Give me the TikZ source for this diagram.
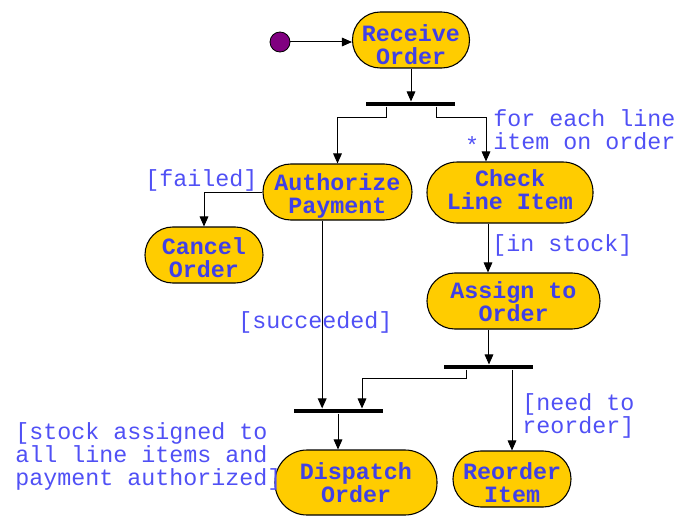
\documentclass[tikz,border=0pt]{standalone}
\usepackage{fontspec}
\setmonofont{Liberation Mono}
\usetikzlibrary{arrows.meta}
\definecolor{gold}{RGB}{255,204,0}
\definecolor{nodeblue}{RGB}{64,64,230}
\definecolor{lblblue}{RGB}{80,80,245}
\definecolor{initpurple}{RGB}{128,0,128}
\newcommand\actext[4]{\rule{0pt}{#1}#3\\#4\rule[-#2]{0pt}{#2}}
\begin{document}
\begin{tikzpicture}[x=0.75pt,y=-0.75pt,
 act/.style={rectangle, rounded corners=20.8pt, draw=black, line width=0.8pt, fill=gold, text=nodeblue,
   font=\ttfamily\bfseries\fontsize{17.5pt}{17.25pt}\selectfont, align=center, inner sep=0pt},
 bar/.style={fill=black, inner sep=0pt, minimum width=66.75pt, minimum height=3.4pt},
 lbl/.style={text=lblblue, font=\ttfamily\fontsize{17.5pt}{17.25pt}\selectfont, align=left, inner sep=0pt, anchor=west},
 flow/.style={line width=0.75pt, -{Triangle[length=7.5pt,width=6.5pt]}}
]
\useasboundingbox (0,0) rectangle (684,517);
\node[circle, fill=initpurple, draw=black, line width=0.6pt, minimum size=15pt, inner sep=0pt] (init) at (280,42) {};
\node[act, minimum width=87.75pt, minimum height=42pt] (recv) at (411,40) {\actext{19pt}{0pt}{Receive}{Order}};
\node[bar] (bar1) at (410,104) {};
\node[act, minimum width=111.75pt, minimum height=42pt] (auth) at (337.5,192) {\actext{19pt}{4pt}{Authorize}{Payment}};
\node[act, rounded corners=22.6pt, minimum width=124.5pt, minimum height=45.75pt] (check) at (510,192.5) {\actext{14pt}{6.2pt}{Check}{Line Item}};
\node[act, minimum width=88.5pt, minimum height=42pt] (cancel) at (204,255) {\actext{16pt}{0pt}{Cancel}{Order}};
\node[act, minimum width=129.75pt, minimum height=42pt] (assign) at (513.5,301) {\actext{13.8pt}{0pt}{Assign to}{Order}};
\node[bar] (bar3) at (488,367) {};
\node[bar] (bar2) at (338,411) {};
\node[act, rounded corners=24pt, minimum width=121.5pt, minimum height=48.75pt] (dispatch) at (356,482.5) {\actext{13.4pt}{1.1pt}{Dispatch}{Order}};
\node[act, minimum width=88.5pt, minimum height=42pt] (reorder) at (512,479) {\actext{17.5pt}{0pt}{Reorder}{Item}};

\draw[flow] (init.east) -- (init.east -| recv.west);
\draw[flow] (recv.south) -- (recv.south |- bar1.north);
\coordinate (b1l) at ([xshift=-18pt]bar1.south);
\draw[flow] (b1l) -- ++(0,11) -| (auth.north);
\coordinate (b1r) at ([xshift=19.5pt]bar1.south);
\coordinate (ckin) at ([xshift=-18pt]check.north);
\draw[flow] (b1r) -- ++(0,11) -| (ckin);
\draw[flow] (auth.west) -| (cancel.north);
\coordinate (aout) at ([xshift=-11.5pt]auth.south);
\draw[flow] (aout) -- (aout |- bar2.north);
\coordinate (ckout) at ([xshift=-16.5pt]check.south);
\draw[flow] (ckout) -- (ckout |- assign.north);
\coordinate (asout) at ([xshift=-18.4pt]assign.south);
\draw[flow] (asout) -- (asout |- bar3.north);
\coordinate (b3l) at ([xshift=-16.5pt]bar3.south);
\coordinate (b2r) at ([xshift=18pt]bar2.north);
\draw[flow] (b3l) -- ++(0,9) -| (b2r);
\coordinate (b3r) at ([xshift=18pt]bar3.south);
\draw[flow] (b3r) -- (b3r |- reorder.north);
\draw[flow] (bar2.south) -- (bar2.south |- dispatch.north);

\node[lbl] (lfailed) at (145,180) {[failed]};
\node[lbl] (lforeach) at (493,129.5) {for each line\\item on order};
\node[lbl, anchor=center] (lstar) at (472,145) {*};
\node[lbl] (linstock) at (492,245) {[in stock]};
\node[lbl] (lsucc) at (238,322) {[succeeded]};
\node[lbl] (lneed) at (522,416) {[need to\\reorder]};
\node[lbl] (lstock) at (15,456) {[stock assigned to\\all line items and\\payment authorized]};
\end{tikzpicture}
\end{document}
